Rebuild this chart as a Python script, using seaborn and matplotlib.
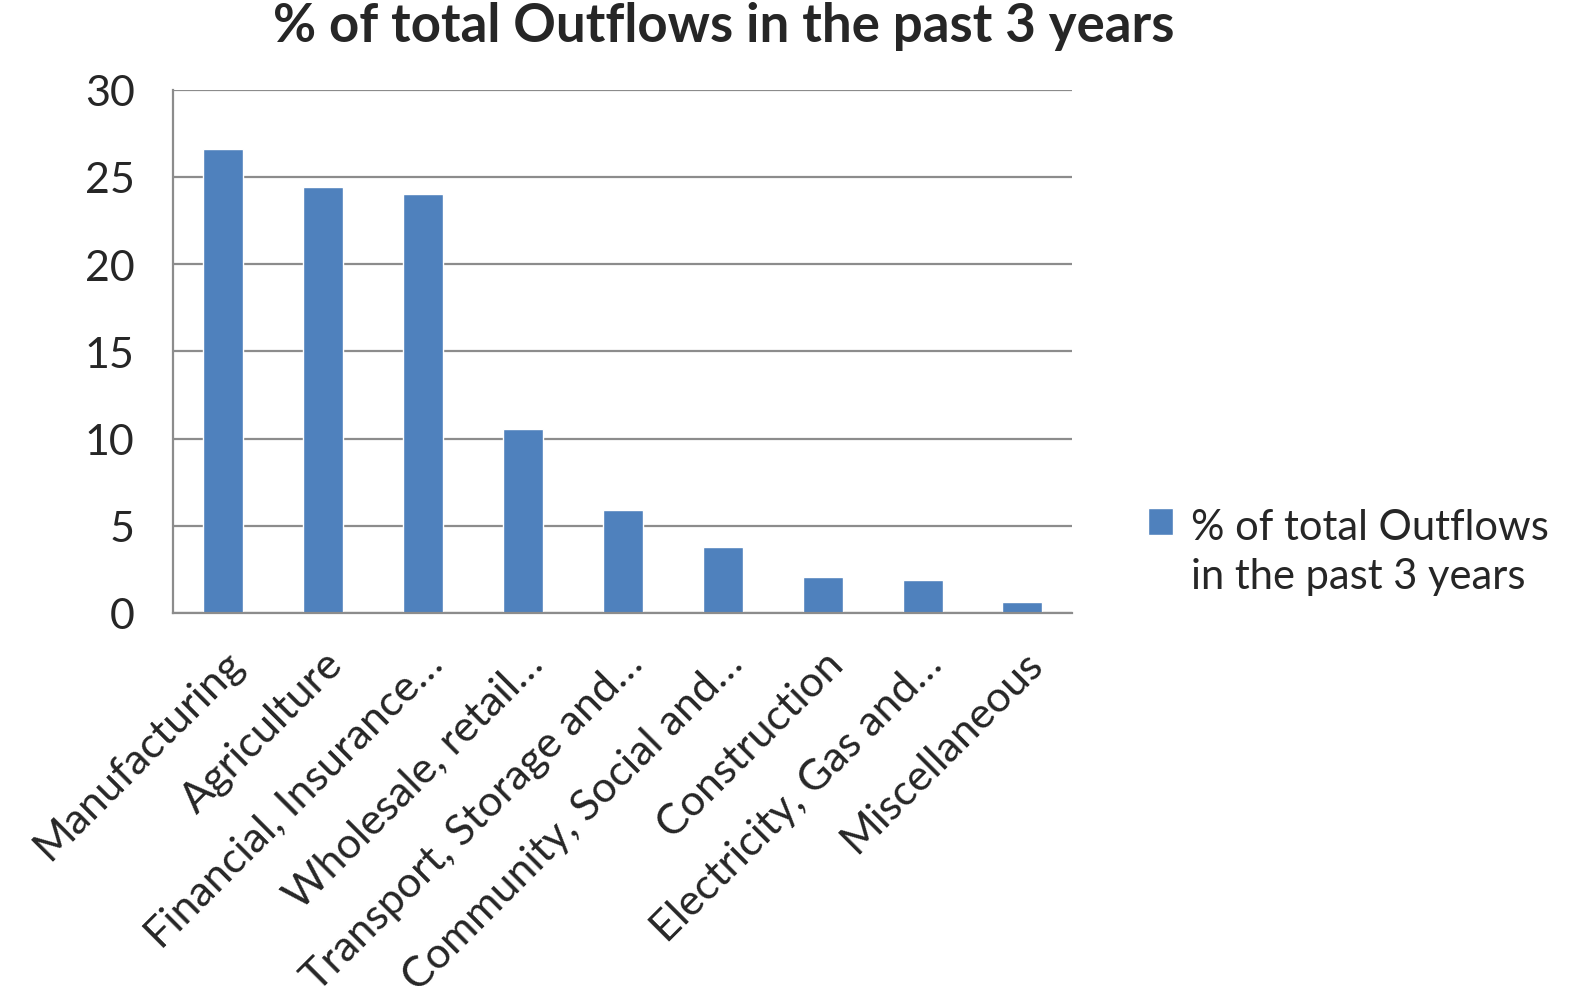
import matplotlib
matplotlib.use("agg")
import matplotlib.pyplot as plt
import seaborn as sns
import pandas as pd

sectors = ["Manufacturing", "Agriculture", "Financial, Insurance\u2026",
           "Wholesale, retail\u2026", "Transport, Storage and\u2026",
           "Community, Social and\u2026", "Construction",
           "Electricity, Gas and\u2026", "Miscellaneous"]
pct = [26.6, 24.4, 24.0, 10.55, 5.92, 3.8, 2.07, 1.86, 0.64]
series = "% of total Outflows in the past 3 years"

df = pd.DataFrame({"sector": sectors, "pct": pct})

sns.set_style("white")
plt.rcParams['font.family'] = ['Lato', 'DejaVu Sans']

fig = plt.figure(figsize=(15.77, 9.87), dpi=100)
ax = fig.add_axes([0.110, 0.378, 0.570, 0.530])

sns.barplot(data=df, x="sector", y="pct", color="#4F81BD", width=0.4,
            saturation=1, label="% of total Outflows\nin the past 3 years", ax=ax)

ax.set_ylim(0, 30)
ax.set_xlim(-0.5, len(sectors) - 0.5)
ax.set_yticks(range(0, 31, 5))
ax.yaxis.grid(True, color="#8c8c8c", linewidth=1.6)
ax.set_axisbelow(True)
for s in ["top", "right"]:
    ax.spines[s].set_visible(False)
for s in ["left", "bottom"]:
    ax.spines[s].set_color("#8c8c8c")
    ax.spines[s].set_linewidth(1.6)

ax.tick_params(axis="y", length=12, width=1.6, color="#8c8c8c", labelsize=31, pad=16)
ax.set_xticks([i - 0.5 for i in range(len(sectors) + 1)], minor=True)
ax.tick_params(axis="x", which="minor", length=12, width=1.6, color="#8c8c8c")
ax.tick_params(axis="x", which="major", length=0, labelsize=31, pad=22)
ax.set_xticks(range(len(sectors)))
ax.set_xticklabels(sectors, rotation=45, ha="right", rotation_mode="anchor")
ax.set_xlabel("")
ax.set_ylabel("")

fig.suptitle(series, fontsize=38, fontweight="bold", x=0.459, y=0.998)

leg = ax.legend(loc="center left", bbox_to_anchor=(0.704, 0.44), bbox_transform=fig.transFigure,
                frameon=False, fontsize=30, handlelength=0.6, handleheight=0.6,
                handletextpad=0.45)
for t in leg.get_texts():
    t.set_linespacing(1.35)
for col in leg._legend_handle_box.get_children():
    for row in col.get_children():
        row.align = "top"

fig.savefig("out.png", dpi=100)
